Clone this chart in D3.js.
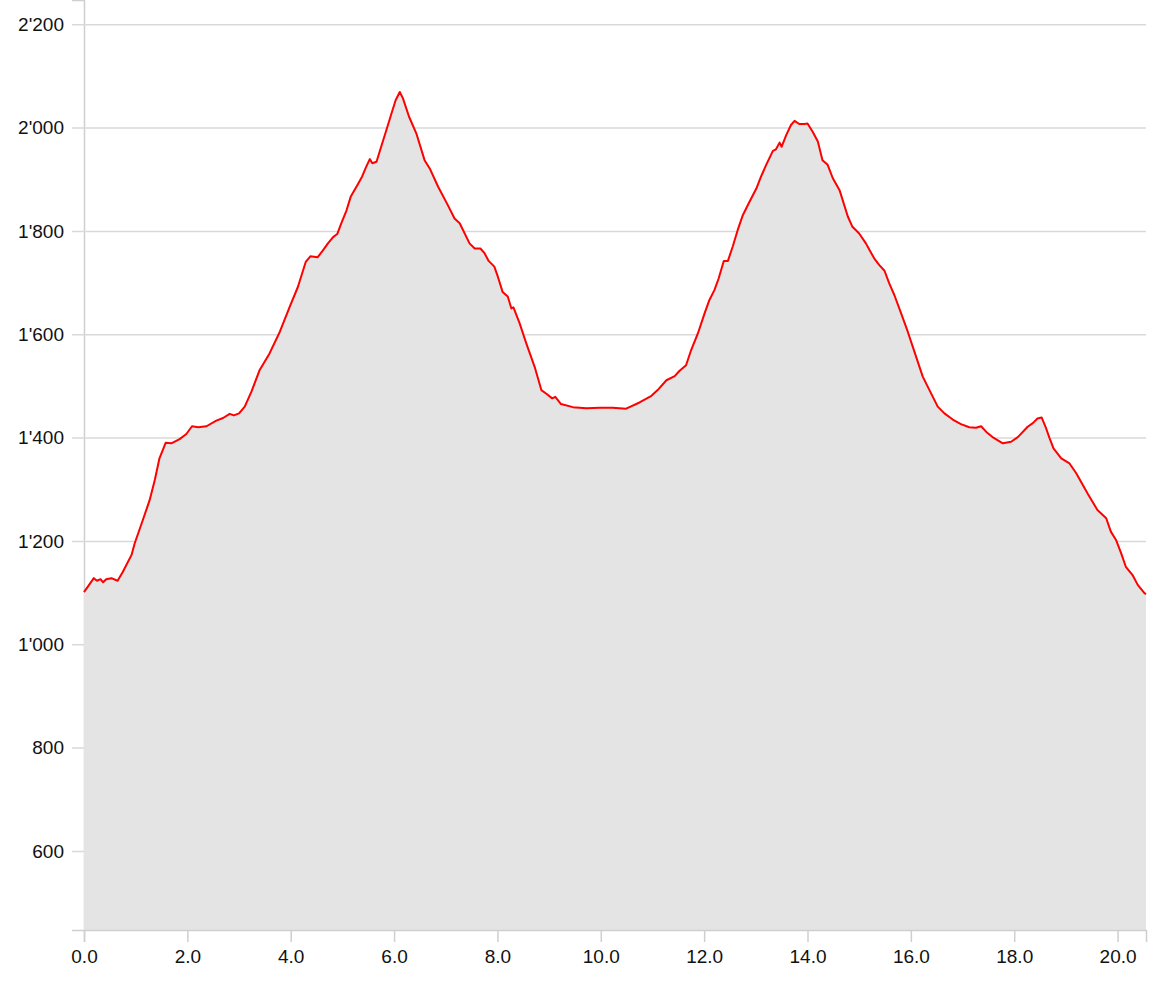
<!DOCTYPE html>
<html>
<head>
<meta charset="utf-8">
<script src="https://cdn.jsdelivr.net/npm/d3@7"></script>
<style>
  body { margin: 0; background: #fff; }
  text { font-family: "Liberation Sans", Arial, Helvetica, sans-serif; }
</style>
</head>
<body>
<svg></svg>
<script>
var width = 1175;
var height = 989;
var margin = {top: 0, right: 29, bottom: 59, left: 84};

// Distance (km) and elevation (m)
var distance = [
  0, 0.19, 0.25, 0.32, 0.37, 0.43, 0.53, 0.65, 0.75, 0.92, 0.98, 1.14, 1.27, 1.37, 1.46, 1.58, 1.69, 1.85, 1.98, 2.09,
  2.21, 2.37, 2.56, 2.69, 2.82, 2.90, 3.00, 3.11, 3.24, 3.40,
  3.59, 3.79, 3.98, 4.14, 4.29, 4.38, 4.52, 4.62, 4.72, 4.82, 4.90, 4.98, 5.08, 5.16, 5.28, 5.38, 5.46, 5.53, 5.58, 5.66,
  5.75, 5.85, 5.93, 6.03, 6.11, 6.17, 6.29, 6.43, 6.59, 6.69, 6.85, 7.04, 7.17, 7.27, 7.46,
  7.56, 7.67, 7.75, 7.83, 7.94, 8.01, 8.10, 8.20, 8.27, 8.31, 8.43, 8.56, 8.72, 8.85, 8.96, 9.06, 9.12, 9.23, 9.46, 9.72,
  9.98, 10.23, 10.49, 10.75, 10.98, 11.10, 11.27, 11.43, 11.52,
  11.65, 11.75, 11.88, 12.01, 12.10, 12.20, 12.28, 12.38, 12.46, 12.55, 12.65, 12.75, 12.88, 13.01, 13.10, 13.20, 13.33,
  13.39, 13.46, 13.50, 13.59, 13.68, 13.75, 13.84, 13.94, 14.00, 14.10, 14.20, 14.29, 14.39, 14.49, 14.62, 14.78, 14.87,
  15.00, 15.13,
  15.20, 15.29, 15.39, 15.49, 15.58, 15.68, 15.81, 15.94, 16.07, 16.23, 16.36, 16.52, 16.65, 16.81, 16.97, 17.13, 17.26,
  17.36, 17.46, 17.58, 17.78, 17.94, 18.07, 18.26, 18.36, 18.45, 18.53, 18.61, 18.68, 18.76, 18.91, 19.07, 19.20, 19.42,
  19.61, 19.78, 19.87, 19.97, 20.07, 20.16, 20.29, 20.39, 20.52, 20.55
];

var elevation = [
  1101, 1128, 1123, 1126, 1120, 1126, 1128, 1123, 1140, 1173, 1195, 1241, 1279, 1318, 1360, 1390, 1389, 1397, 1407, 1422,
  1420, 1422, 1433, 1438, 1446, 1443, 1447, 1460, 1489, 1531,
  1563, 1605, 1653, 1692, 1740, 1751, 1749, 1762, 1776, 1788, 1794, 1815, 1840, 1866, 1887, 1905, 1924, 1939, 1931, 1934,
  1963, 1995, 2021, 2053, 2069, 2057, 2021, 1989, 1937, 1921, 1886, 1850, 1824, 1815, 1776,
  1766, 1766, 1757, 1742, 1731, 1711, 1682, 1673, 1650, 1652, 1621, 1582, 1537, 1492, 1484, 1476, 1479, 1465, 1459, 1457,
  1458, 1458, 1456, 1468, 1481, 1492, 1511, 1519, 1529,
  1540, 1570, 1602, 1641, 1666, 1686, 1708, 1742, 1742, 1769, 1802, 1831, 1857, 1882, 1905, 1928, 1955,
  1958, 1971, 1963, 1986, 2005, 2013, 2007, 2007, 2008, 1992, 1973, 1937, 1928, 1902, 1879, 1828, 1808,
  1795, 1776,
  1763, 1747, 1734, 1723, 1699, 1676, 1641, 1605, 1566, 1518, 1492, 1460, 1447, 1435, 1426, 1420, 1419,
  1422, 1411, 1401, 1389, 1392, 1401, 1421, 1428, 1437, 1439, 1420, 1400, 1379, 1360, 1350, 1331, 1292,
  1260, 1244, 1218, 1202, 1176, 1150, 1134, 1115, 1099, 1097
];

var elevationDomain = [447, 2247];
var yTicks = [600, 800, 1000, 1200, 1400, 1600, 1800, 2000, 2200];
var xTicks = [0, 2, 4, 6, 8, 10, 12, 14, 16, 18, 20];

var data = distance.map((d, i) => ({km: d, ele: elevation[i]}));

var plotW = width - margin.left - margin.right;
var plotH = height - margin.top - margin.bottom;

// Scales

var xScale = d3.scaleLinear()
                .domain([0, d3.max(distance)])
                .range([0, plotW]);

var yScale = d3.scaleLinear()
                .domain(elevationDomain)
                .range([plotH, 0]);

var swiss = d3.formatLocale({decimal: '.', thousands: "'", grouping: [3], currency: ['', '']});

var svg = d3.select('svg')
    .attr('width', width)
    .attr('height', height);

var g = svg.append('g')
    .attr('transform', 'translate(' + margin.left + ',' + margin.top + ')');

// Axes (gridlines drawn first so the area covers them)

var yAxisG = g.append('g')
    .call(d3.axisLeft(yScale)
        .tickValues(yTicks)
        .tickFormat(swiss.format(','))
        .tickSize(12)
        .tickPadding(8));

yAxisG.selectAll('.tick line')
    .attr('x1', plotW)
    .attr('stroke', '#d9d9d9')
    .attr('stroke-width', 1.5);

var xAxisG = g.append('g')
    .attr('transform', 'translate(0,' + plotH + ')')
    .call(d3.axisBottom(xScale)
        .tickValues(xTicks)
        .tickFormat(d3.format('.1f'))
        .tickSize(12)
        .tickPadding(8));

xAxisG.selectAll('.tick line')
    .attr('stroke', '#cfcfcf')
    .attr('stroke-width', 1.5);

g.selectAll('.domain')
    .attr('stroke', '#cfcfcf')
    .attr('stroke-width', 1.5);

g.selectAll('.tick text')
    .attr('fill', '#111')
    .style('font-size', '19px');

// Area + line

var area = d3.area()
    .x(d => xScale(d.km))
    .y0(plotH)
    .y1(d => yScale(d.ele));

var line = d3.line()
    .x(d => xScale(d.km))
    .y(d => yScale(d.ele));

g.append('path')
    .datum(data)
    .attr('fill', '#e4e4e4')
    .attr('d', area);

g.append('path')
    .datum(data)
    .attr('fill', 'none')
    .attr('stroke', '#ff0000')
    .attr('stroke-width', 2)
    .attr('stroke-linejoin', 'round')
    .attr('d', line);

// keep axis lines visible above the area
g.node().appendChild(xAxisG.node());
</script>
</body>
</html>
